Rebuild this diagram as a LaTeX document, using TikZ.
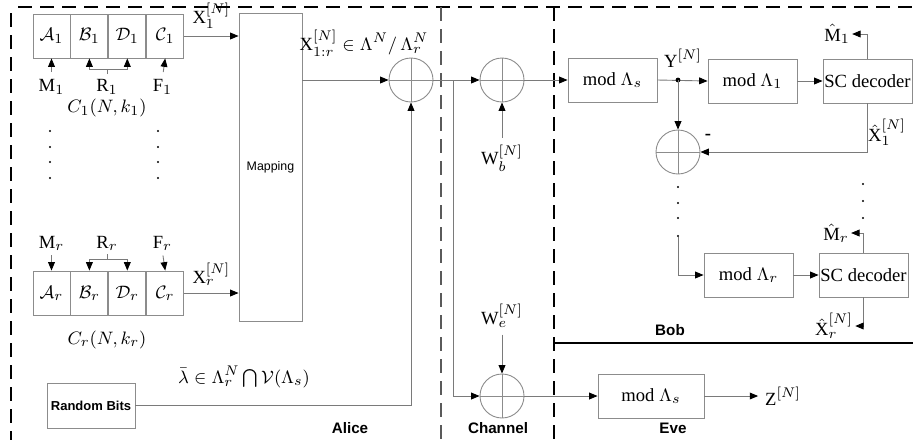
\documentclass[tikz,border=0pt]{standalone}
\usepackage{amsmath}
\usepackage{fontspec}
\setmainfont{Liberation Serif}
\setsansfont{Liberation Sans}
\usepackage{xcolor}
\usepackage{tikz}
\usetikzlibrary{arrows.meta,calc,positioning}
\definecolor{edge}{HTML}{8C8C8C}
\definecolor{wire}{HTML}{7A7A7A}
\definecolor{fencegray}{HTML}{5A5A5A}

\begin{document}
\begin{tikzpicture}[x=0.5pt,y=-0.5pt,font=\fontsize{9.3}{11}\selectfont,
  >={Triangle[length=4.2pt,width=3.4pt,color=black]},
  box/.style={draw=edge,line width=0.45pt,inner sep=0,minimum height=22pt},
  cell/.style={box,minimum width=18.5pt},
  sum/.style={circle,draw=edge,line width=0.45pt,minimum size=22pt,inner sep=0,
    path picture={\draw[edge,line width=0.45pt] (path picture bounding box.north) -- (path picture bounding box.south)
      (path picture bounding box.west) -- (path picture bounding box.east);}},
  lab/.style={inner sep=1pt},
  wire/.style={draw=wire,line width=0.45pt},
  tag/.style={font=\sffamily\bfseries\fontsize{7.6}{9}\selectfont},
  fence/.style={dash pattern=on 7pt off 4pt,line width=0.75pt}]
\useasboundingbox (0,0) rectangle (913,440);
% zones
\draw[fence] (18,7) -- (913,7); \draw[fence] (11,13) -- (11,440);
\draw[fence,fencegray] (441,7) -- (441,440); \draw[fence] (554,7) -- (554,440);
\draw[line width=0.6pt] (554,343) -- (913,343);
\node[tag] (alice) at (350,428) {Alice}; \node[tag] (chan) at (498,428) {Channel};
\node[tag] (bob) at (670,330) {Bob}; \node[tag] (eve) at (673,428) {Eve};

% Alice: first level
\node[cell] (A1) at (51.5,36) {$\mathcal{A}_1$};
\node[cell,right=0pt of A1] (B1) {$\mathcal{B}_1$};
\node[cell,right=0pt of B1] (D1) {$\mathcal{D}_1$};
\node[cell,right=0pt of D1] (C1) {$\mathcal{C}_1$};
\node[lab] (M1) at (51.5,87) {M$_1$}; \node[lab] (R1) at (107,87) {R$_1$}; \node[lab] (F1) at (162.5,87) {F$_1$};
\node (code1) at (107,108) {$C_1(N,k_1)$};
\draw[wire,->,shorten <=2.5pt] (M1.north) -- (A1.south);
\draw[wire,->,shorten <=2.5pt] (F1.north) -- (C1.south);
\draw[wire] ([yshift=1.5pt]R1.north) -- ++(0,-5) coordinate (R1k);
\draw[wire,->] (R1k) -| (B1.south); \draw[wire,->] (R1k) -| (D1.south);
\foreach \y in {131,147,162,178} {\fill (50,\y) circle (0.6pt) (158,\y) circle (0.6pt);}

% Alice: last level
\node[cell] (Ar) at (51.5,293) {$\mathcal{A}_r$};
\node[cell,right=0pt of Ar] (Br) {$\mathcal{B}_r$};
\node[cell,right=0pt of Br] (Dr) {$\mathcal{D}_r$};
\node[cell,right=0pt of Dr] (Cr) {$\mathcal{C}_r$};
\node[lab] (Mr) at (51.5,243) {M$_r$}; \node[lab] (Rr) at (107,243) {R$_r$}; \node[lab] (Fr) at (162.5,243) {F$_r$};
\node (coder) at (107,340) {$C_r(N,k_r)$};
\draw[wire,->,shorten <=1.5pt] (Mr.south) -- (Ar.north);
\draw[wire,->,shorten <=1.5pt] (Fr.south) -- (Cr.north);
\draw[wire] ([yshift=-1pt]Rr.south) -- ++(0,5) coordinate (Rrk);
\draw[wire,->] (Rrk) -| (Br.north); \draw[wire,->] (Rrk) -| (Dr.north);

\node[box,minimum width=31.5pt,minimum height=154pt,font=\sffamily\fontsize{6.2}{7}\selectfont] (map) at (270.5,167) {Mapping};
\draw[wire,->] (C1.east) -- (C1.east -| map.west) node[midway,above] {X$_1^{[N]}$};
\draw[wire,->] (Cr.east) -- (Cr.east -| map.west) node[midway,above] {X$_r^{[N]}$};
\node[box,minimum width=44pt,minimum height=22.5pt,font=\sffamily\bfseries\fontsize{6.5}{8}\selectfont] (rnd) at (91,405.5) {Random Bits};
\node[lab] (lam) at (244,377) {$\bar{\lambda}\in\Lambda_r^N\bigcap\mathcal{V}(\Lambda_s)$};

\node[sum] (s1) at (411,80) {};
\node (xsum) at (364,43) {X$_{1:r}^{[N]}\in\Lambda^N/\,\Lambda_r^N$};
\draw[wire,->] (map.east |- s1) -- (s1);
\draw[wire,->] (rnd.east) -| (s1.south);

% channel
\node[sum] (s2) at (502,80) {}; \node[sum] (s3) at (502,396) {};
\coordinate (tap) at (453,80);
\draw[wire,->] (s1) -- (s2); \draw[wire,->] (tap) |- (s3);
\node (wb) at (502,158) {W$_b^{[N]}$}; \draw[wire,->] (wb) -- (s2);
\node (we) at (502,316) {W$_e^{[N]}$}; \draw[wire,->] (we) -- (s3);

% Bob
\node[box,minimum width=44.5pt] (bs) at (612.5,80) {mod $\Lambda_s$};
\node[box,minimum width=44.5pt] (b1) at (752.5,81) {mod $\Lambda_1$};
\node[box,minimum width=44.5pt] (dec1) at (867.5,81) {SC decoder};
\coordinate (yj) at (678,80);
\draw[wire,->] (s2) -- (bs); \draw[wire,->] (bs.east) -- (b1.west); \draw[wire,->] (b1) -- (dec1);
\fill (yj) circle (1.2pt); \node (y) at (683,58) {Y$^{[N]}$};
\node[sum] (s4) at (678,152) {}; \draw[wire,->] (yj) -- (s4);
\draw[wire,->] (dec1.south) |- (s4.east);
\node (xh1) at (887,132) {$\hat{\text{X}}_1^{[N]}$}; \node (minus) at (708,137) {\textbf{-}};
\node[lab] (mh1) at (837,34) {$\hat{\text{M}}_1$}; \draw[wire,->] (dec1.north) |- (mh1.east);
\foreach \y in {187,203,218,236} {\fill (678,\y) circle (0.6pt);}
\foreach \y in {184,201,218} {\fill (863,\y) circle (0.6pt);}
\coordinate (dj) at (678,237);
\node[box,minimum width=44.5pt] (br) at (748.5,275) {mod $\Lambda_r$};
\node[box,minimum width=44.5pt] (decr) at (863.5,275) {SC decoder};
\draw[wire,->] (dj) |- (br); \draw[wire,->] (br) -- (decr);
\node[lab] (mhr) at (836,233) {$\hat{\text{M}}_r$}; \draw[wire,->] (decr.north) |- (mhr.east);
\node[lab] (xhr) at (834,326) {$\hat{\text{X}}_r^{[N]}$}; \draw[wire,->] (decr.south) |- (xhr.east);

% Eve
\node[box,minimum width=53pt] (es) at (651,396) {mod $\Lambda_s$};
\node (z) at (783,396) {Z$^{[N]}$};
\draw[wire,->] (s3) -- (es); \draw[wire,->] (es) -- (z);
\end{tikzpicture}
\end{document}
